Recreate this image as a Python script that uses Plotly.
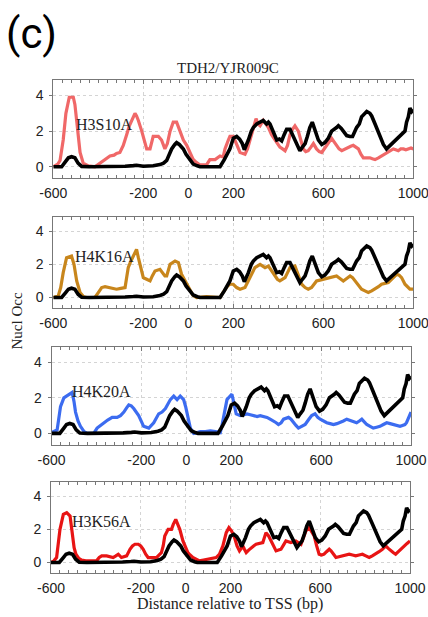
import plotly.graph_objects as go
from plotly.subplots import make_subplots

# Wild-type nucleosome occupancy (black trace, shared by every panel)
wt_pos = [-600, -563, -545, -533, -519, -504, -490, -474, -440, -380, -320, -281, -244, -230, -200, -160,
          -156, -126, -110, -96, -85, -74, -60, -52, -40, -22, -10, 0, 10, 22, 40, 52, 100, 141, 160, 175,
          185, 200, 215, 228, 240, 249, 258, 267, 280, 289, 304, 319, 333, 348, 356, 363, 378, 393, 405,
          415, 426, 437, 452, 463, 474, 487, 496, 507, 519, 529, 540, 551, 563, 578, 593, 607, 622, 637,
          659, 667, 680, 689, 704, 718, 730, 748, 760, 770, 793, 807, 815, 830, 844, 852, 867, 881, 893,
          904, 920, 933, 948, 963, 970, 978, 985, 993, 1000]
wt_occ = [0, 0, 0.3, 0.5, 0.56, 0.5, 0.2, 0.02, 0, 0, 0.02, 0.03, 0.06, 0.08, 0.03, 0.03,
          0.05, 0.12, 0.2, 0.35, 0.7, 1.0, 1.25, 1.35, 1.25, 1.0, 0.7, 0.5, 0.3, 0.15, 0.05, 0, 0, 0, 0.4, 0.8,
          1.0, 1.6, 1.7, 1.55, 1.3, 0.95, 1.2, 1.5, 2.0, 2.2, 2.4, 2.5, 2.6, 2.4, 2.5, 2.4, 2.0, 1.5, 1.55,
          1.45, 1.8, 2.1, 2.1, 1.8, 1.5, 1.1, 0.9, 1.1, 1.3, 1.7, 2.2, 2.5, 2.1, 1.5, 1.25, 1.35, 1.6, 2.0,
          2.2, 2.3, 2.15, 2.0, 1.75, 1.7, 1.7, 2.2, 2.4, 2.8, 3.1, 3.0, 2.85, 2.4, 2.0, 1.7, 1.25, 1.0, 1.15,
          1.3, 1.5, 1.6, 1.8, 2.0, 2.5, 2.8, 3.3, 3.1, 3.2]

# H3S10A mutant
h3s10a_pos = [-600, -593, -580, -570, -563, -556, -544, -529, -511, -504, -498, -492, -481, -467, -444, -415,
              -393, -370, -348, -330, -319, -304, -289, -274, -262, -244, -237, -230, -222, -207, -197, -185,
              -170, -163, -156, -133, -119, -104, -93, -81, -67, -52, -37, -22, -7, 7, 20, 30, 52, 81, 89, 96,
              119, 133, 141, 155, 163, 178, 185, 200, 215, 230, 240, 252, 263, 274, 289, 301, 310, 319, 333,
              345, 356, 370, 385, 396, 407, 419, 430, 441, 452, 463, 474, 489, 500, 511, 522, 533, 545, 556,
              570, 582, 593, 604, 615, 626, 637, 648, 659, 670, 682, 696, 711, 722, 733, 745, 756, 767, 778,
              793, 807, 818, 830, 845, 859, 870, 881, 896, 911, 922, 933, 944, 956, 967, 978, 990, 1000]
h3s10a_occ = [0, 0.05, 0.15, 0.35, 0.9, 1.5, 3.0, 3.9, 3.9, 3.5, 2.8, 2.0, 0.8, 0.2, 0.05, 0.0,
              0.2, 0.4, 0.6, 0.65, 0.75, 0.8, 1.2, 1.8, 2.3, 2.8, 3.0, 2.85, 2.6, 2.0, 1.5, 1.0,
              1.0, 1.4, 1.7, 1.7, 1.5, 1.0, 1.3, 2.0, 2.5, 2.5, 2.0, 1.5, 1.2, 0.8, 0.45, 0.3, 0.1, 0.1, 0.3, 0.4,
              0.4, 0.5, 0.6, 0.55, 1.0, 1.5, 1.7, 1.7, 1.2, 0.8, 0.75, 0.7, 1.0, 1.5, 2.2, 2.7, 2.4, 2.3, 2.6,
              2.4, 2.2, 1.8, 1.5, 1.3, 1.1, 1.0, 0.9, 1.2, 1.8, 2.1, 2.3, 2.0, 1.5, 1.0, 0.85, 0.9, 1.1, 1.3,
              1.0, 0.85, 0.8, 1.0, 1.2, 1.4, 1.6, 1.4, 1.2, 1.0, 0.9, 1.0, 1.1, 1.15, 1.2, 1.1, 1.0, 0.7, 0.5,
              0.5, 0.5, 0.45, 0.4, 0.5, 0.6, 0.7, 0.8, 0.9, 1.0, 0.95, 0.9, 1.0, 1.0, 0.95, 1.0, 1.05, 1.0]

# H4K16A mutant
h4k16a_pos = [-600, -578, -567, -556, -541, -519, -508, -500, -496, -481, -465, -452, -415, -400, -385, -370,
              -348, -333, -319, -300, -281, -274, -267, -255, -244, -230, -222, -215, -200, -185, -170, -160,
              -148, -126, -115, -104, -96, -81, -59, -44, -30, -15, -7, 7, 20, 37, 60, 81, 110, 141, 152, 163,
              175, 185, 200, 215, 230, 252, 263, 274, 285, 296, 319, 330, 341, 356, 370, 385, 396, 407, 420,
              430, 441, 452, 474, 489, 504, 519, 533, 548, 559, 570, 585, 600, 615, 630, 645, 659, 674, 689,
              704, 719, 730, 741, 755, 770, 785, 800, 815, 830, 845, 859, 874, 889, 900, 911, 926, 937, 948,
              963, 975, 985, 1000]
h4k16a_occ = [0, 0.1, 0.6, 1.5, 2.4, 2.5, 2.0, 1.4, 1.0, 0.3, 0.05, 0.0, 0.0, 0.3, 0.6, 0.65,
              0.6, 0.55, 0.5, 0.55, 0.6, 1.2, 1.8, 2.2, 2.5, 2.9, 2.4, 2.0, 1.2, 1.1, 1.0, 1.3,
              1.6, 1.7, 1.5, 1.3, 1.3, 2.0, 2.2, 2.1, 1.4, 1.0, 0.8, 0.4, 0.15, 0.0, 0.05, 0.05, 0.03, 0.0, 0.25, 0.5,
              0.7, 0.8, 0.8, 0.6, 0.5, 0.6, 0.9, 1.2, 1.5, 1.8, 2.0, 1.9, 1.8, 1.9, 1.6, 1.3, 1.1, 1.0, 1.1,
              1.2, 1.5, 1.8, 1.9, 1.4, 0.8, 0.6, 0.5, 0.6, 0.8, 1.0, 1.05, 1.1, 1.15, 1.2, 1.25, 1.3, 1.15, 1.0,
              1.15, 1.3, 1.2, 1.0, 0.75, 0.5, 0.4, 0.3, 0.4, 0.5, 0.65, 0.8, 0.85, 0.9, 1.05, 1.2, 1.4, 1.35, 1.2,
              0.8, 0.6, 0.5, 0.5]

# H4K20A mutant
h4k20a_pos = [-600, -575, -568, -560, -545, -523, -508, -500, -493, -482, -471, -455, -441, -412, -397, -382,
              -367, -350, -330, -308, -293, -278, -265, -256, -245, -234, -212, -200, -190, -167, -145, -123,
              -108, -93, -82, -71, -56, -41, -27, -12, -3, 3, 10, 18, 33, 62, 85, 107, 130, 151, 158, 166, 175,
              181, 195, 203, 210, 222, 240, 255, 270, 285, 299, 315, 329, 344, 359, 373, 388, 400, 410, 422,
              433, 445, 455, 466, 477, 488, 499, 514, 529, 543, 558, 573, 585, 596, 610, 625, 640, 655, 670,
              684, 699, 714, 725, 736, 747, 758, 770, 781, 792, 803, 818, 832, 847, 862, 877, 892, 907, 921,
              936, 951, 962, 973, 980, 988, 995, 1000]
h4k20a_occ = [0.05, 0.2, 0.8, 1.5, 2.0, 2.2, 2.3, 1.8, 1.2, 0.7, 0.4, 0.1, 0.0, 0.0, 0.3, 0.45,
              0.6, 0.75, 0.9, 0.9, 1.0, 1.2, 1.45, 1.6, 1.55, 1.4, 1.0, 0.7, 0.4, 0.3, 0.6, 1.1,
              1.2, 1.4, 1.7, 1.9, 2.1, 1.9, 2.1, 1.9, 1.5, 1.2, 0.7, 0.3, 0.0, 0.1, 0.1, 0.15, 0.1, 0.05, 0.4, 1.0, 1.6,
              1.9, 2.1, 2.2, 1.8, 1.1, 1.0, 1.05, 1.1, 1.05, 1.0, 0.95, 1.0, 0.95, 0.9, 0.8, 0.7, 0.6, 0.5, 0.6,
              0.8, 0.85, 0.9, 0.8, 0.6, 0.45, 0.3, 0.4, 0.5, 0.75, 1.0, 1.1, 0.9, 0.8, 0.7, 0.6, 0.55, 0.5, 0.55,
              0.6, 0.7, 0.8, 0.75, 0.7, 0.65, 0.6, 0.7, 0.8, 0.65, 0.5, 0.4, 0.3, 0.35, 0.4, 0.5, 0.6, 0.55, 0.5,
              0.45, 0.4, 0.45, 0.5, 0.6, 0.8, 1.0, 1.2]

# H3K56A mutant
h3k56a_pos = [-600, -587, -575, -568, -560, -545, -530, -515, -510, -504, -497, -489, -476, -463, -445, -426,
              -397, -385, -374, -352, -338, -323, -311, -300, -286, -274, -263, -248, -237, -226, -211, -200,
              -189, -178, -167, -148, -130, -119, -108, -100, -93, -78, -63, -55, -44, -35, -26, -12, 0, 10, 20,
              32, 47, 62, 80, 99, 118, 136, 151, 166, 181, 193, 205, 218, 229, 240, 248, 255, 262, 270, 281,
              292, 303, 314, 329, 344, 351, 358, 370, 381, 392, 403, 414, 425, 436, 447, 458, 469, 480, 491,
              502, 514, 525, 536, 551, 562, 573, 584, 595, 606, 617, 628, 640, 648, 655, 662, 670, 684, 699,
              714, 729, 744, 758, 773, 788, 803, 818, 832, 847, 862, 877, 885, 892, 903, 914, 925, 936, 947,
              958, 966, 973, 987, 1000]
h3k56a_occ = [0.0, 0.1, 0.3, 1.0, 2.0, 2.9, 3.0, 2.8, 2.2, 1.5, 0.9, 0.5, 0.25, 0.15, 0.1, 0.1,
              0.1, 0.3, 0.4, 0.4, 0.35, 0.3, 0.4, 0.5, 0.3, 0.35, 0.4, 0.8, 1.0, 1.1, 1.1, 1.0,
              0.8, 0.5, 0.3, 0.3, 0.3, 0.45, 0.6, 1.0, 1.6, 2.0, 2.0, 2.3, 2.6, 2.3, 2.0, 1.3, 0.9, 0.6, 0.45,
              0.3, 0.2, 0.1, 0.15, 0.2, 0.25, 0.3, 0.5, 1.0, 1.8, 2.1, 1.9, 1.5, 1.0, 0.7, 0.85, 1.0, 0.8, 0.6, 0.75,
              0.9, 1.0, 1.1, 1.15, 1.2, 1.5, 1.8, 1.6, 1.3, 1.0, 0.7, 0.75, 0.8, 1.05, 1.3, 1.25, 1.2, 1.25, 1.3,
              1.2, 1.1, 1.5, 1.9, 2.1, 1.85, 1.6, 1.0, 0.5, 0.45, 0.5, 0.65, 0.8, 0.7, 0.6, 0.45, 0.3, 0.35, 0.4,
              0.45, 0.5, 0.45, 0.4, 0.45, 0.5, 0.4, 0.3, 0.4, 0.5, 0.65, 0.8, 0.9, 1.0, 0.85, 0.7, 0.6, 0.5, 0.65,
              0.8, 0.9, 1.0, 1.15, 1.3]

mutant_names = ["H3S10A", "H4K16A", "H4K20A", "H3K56A"]
mutant_pos = [h3s10a_pos, h4k16a_pos, h4k20a_pos, h3k56a_pos]
mutant_occ = [h3s10a_occ, h4k16a_occ, h4k20a_occ, h3k56a_occ]
mutant_colors = ["#f06868", "#c8861c", "#3c6cf0", "#e81414"]

x_ticks = [-600, -200, 0, 200, 600, 1000]
y_ticks = [0, 2, 4]

W, H = 428, 617
# panel boxes in pixels: (left, right, top, bottom)
boxes = [(53.3, 413.3, 80.0, 178.3),
         (53.3, 413.3, 216.7, 308.3),
         (51.5, 411.0, 346.7, 445.0),
         (51.0, 410.0, 481.7, 573.3)]

fig = make_subplots(rows=4, cols=1)

for i in range(4):
    r = i + 1
    fig.add_trace(go.Scatter(x=mutant_pos[i], y=mutant_occ[i], mode="lines",
                             line=dict(color=mutant_colors[i], width=3.2),
                             showlegend=False, hoverinfo="skip"), row=r, col=1)
    fig.add_trace(go.Scatter(x=wt_pos, y=wt_occ, mode="lines",
                             line=dict(color="black", width=3.6),
                             showlegend=False, hoverinfo="skip"), row=r, col=1)

axis_font = dict(family="Liberation Sans, Arial, sans-serif", size=14, color="#222")
for i, (l, rgt, t, b) in enumerate(boxes):
    sfx = "" if i == 0 else str(i + 1)
    fig.layout["xaxis" + sfx].update(
        domain=[l / W, rgt / W], range=[-600, 1000], automargin=False,
        tickmode="array", tickvals=x_ticks, ticktext=[str(v) for v in x_ticks],
        ticks="inside", ticklen=4, tickcolor="#777", ticklabeloverflow="allow",
        minor=dict(tickmode="linear", tick0=-600, dtick=40, ticks="inside",
                   ticklen=3, tickcolor="#777", showgrid=False),
        showgrid=True, gridcolor="#d4d4d4", griddash="dot", gridwidth=1,
        showline=True, linecolor="#777", linewidth=1, mirror="allticks",
        zeroline=False, tickfont=axis_font, ticklabelstandoff=2)
    fig.layout["yaxis" + sfx].update(
        domain=[1 - b / H, 1 - t / H], range=[-0.65, 4.87], automargin=False,
        tickmode="array", tickvals=y_ticks, ticklabeloverflow="allow",
        ticks="outside", ticklen=3, tickcolor="#777",
        showgrid=True, gridcolor="#d4d4d4", griddash="dot", gridwidth=1,
        showline=True, linecolor="#777", linewidth=1, mirror="allticks",
        zeroline=False, tickfont=axis_font, ticklabelstandoff=3)

serif = "Liberation Serif, Times New Roman, serif"
annotations = [
    dict(text="(c)", x=32 / W, y=1 - 34 / H, font=dict(family="Roboto, Arial, sans-serif", size=42, color="black")),
    dict(text="TDH2/YJR009C", x=228 / W, y=1 - 68 / H, font=dict(family=serif, size=15, color="#222")),
    dict(text="Nucl Occ", x=16.5 / W, y=1 - 321 / H, textangle=-90, font=dict(family=serif, size=15, color="#222")),
    dict(text="Distance relative to TSS (bp)", x=230 / W, y=1 - 604 / H, font=dict(family=serif, size=16, color="#222")),
]
label_pos = [(104, 125), (104.5, 256.7), (101, 391.7), (101, 521.7)]
for name, (lx, ly) in zip(mutant_names, label_pos):
    annotations.append(dict(text=name, x=lx / W, y=1 - ly / H, font=dict(family=serif, size=16, color="#222")))

for a in annotations:
    a.update(xref="paper", yref="paper", showarrow=False, xanchor="center", yanchor="middle")

fig.update_layout(width=W, height=H, margin=dict(l=0, r=0, t=0, b=0),
                  paper_bgcolor="white", plot_bgcolor="white",
                  annotations=annotations, showlegend=False)

fig.write_html("out.html")
